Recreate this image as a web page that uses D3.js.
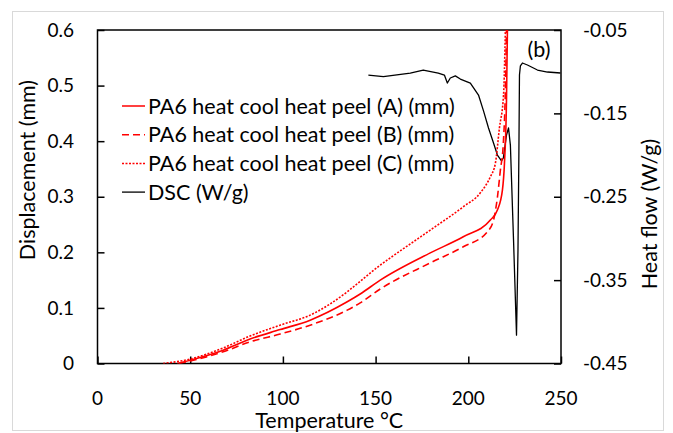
<!DOCTYPE html>
<html>
<head>
<meta charset="utf-8">
<script src="https://cdn.jsdelivr.net/npm/d3@7/dist/d3.min.js"></script>
<style>
  html, body { margin: 0; padding: 0; background: #fff; }
  svg { display: block; }
  text { font-family: Lato, "Open Sans", sans-serif; fill: #000; }
</style>
</head>
<body>
<svg id="chart" width="673" height="433"></svg>
<script>
// Peel displacement (mm) vs temperature (°C) for three PA6 specimens
const tempA = [43, 50, 67.8, 82.3, 98.5, 114.7, 134.7, 141.7, 152.5, 179.5, 197.3, 211.9, 215.7, 218.4, 219.5, 220.6, 221.1];
const dispA = [0, 0.006, 0.024, 0.044, 0.061, 0.078, 0.111, 0.125, 0.150, 0.199, 0.228, 0.258, 0.276, 0.312, 0.360, 0.474, 0.600];

const tempB = [44, 50, 67.8, 82.3, 98.5, 114.7, 134.7, 141.7, 152.5, 179.5, 197.3, 210.3, 213.6, 215.7, 217.3, 218.9, 220.0, 220.6];
const dispB = [0, 0.0045, 0.021, 0.039, 0.053, 0.069, 0.096, 0.109, 0.134, 0.181, 0.210, 0.237, 0.258, 0.299, 0.348, 0.397, 0.492, 0.600];

const tempC = [35.4, 50, 67.8, 82.3, 98.5, 114.7, 134.7, 141.7, 152.5, 157.9, 179.5, 197.3, 206.5, 211.9, 214.6, 216.8, 219.0, 220.0];
const dispC = [0, 0.008, 0.028, 0.0495, 0.069, 0.087, 0.129, 0.148, 0.177, 0.190, 0.240, 0.282, 0.307, 0.336, 0.360, 0.424, 0.483, 0.600];

// DSC heat flow (W/g) vs temperature (°C)
const tempDSC = [146.1, 154.2, 168.7, 175.7, 183.8, 187.1, 188.7, 190.3, 193.0, 195.7, 201.1, 205.5, 208.2, 210.9, 213.6, 215.7, 217.9, 218.9, 220.6, 221.7, 222.7, 224.4, 226.0, 226.8, 227.3, 227.6, 228.1, 229.2, 231.9, 237.3, 242.7, 249.7];
const heatDSC = [-0.104, -0.106, -0.1016, -0.098, -0.1016, -0.104, -0.1136, -0.1076, -0.105, -0.1088, -0.1136, -0.128, -0.147, -0.1675, -0.1855, -0.200, -0.207, -0.2035, -0.176, -0.1675, -0.188, -0.302, -0.416, -0.314, -0.194, -0.104, -0.093, -0.0896, -0.092, -0.098, -0.1004, -0.1016];

const xTicks = [0, 50, 100, 150, 200, 250];
const yTicks = [0, 0.1, 0.2, 0.3, 0.4, 0.5, 0.6];
const y2Ticks = [-0.05, -0.15, -0.25, -0.35, -0.45];

const seriesNames = [
  "PA6 heat cool heat peel (A) (mm)",
  "PA6 heat cool heat peel (B) (mm)",
  "PA6 heat cool heat peel (C) (mm)",
  "DSC (W/g)"
];

const svg = d3.select("#chart");
const plotLeft = 97.5, plotRight = 561, plotTop = 30, plotBottom = 363.5;

const x = d3.scaleLinear().domain([0, 250]).range([plotLeft, plotRight]);
const y = d3.scaleLinear().domain([0, 0.6]).range([plotBottom, plotTop]);
const y2 = d3.scaleLinear().domain([-0.45, -0.05]).range([plotBottom, plotTop]);

// outer frame
svg.append("rect")
  .attr("x", 12.5).attr("y", 11.5)
  .attr("width", 651).attr("height", 419)
  .attr("fill", "none").attr("stroke", "#d9d9d9").attr("stroke-width", 1);

svg.append("defs").append("clipPath").attr("id", "plotClip")
  .append("rect").attr("x", plotLeft).attr("y", plotTop - 1)
  .attr("width", plotRight - plotLeft).attr("height", plotBottom - plotTop + 1);

const tickFont = 19;
const textFont = 21.5;

// axes, ticks pointing inward
const xAxis = d3.axisTop(x).tickValues(xTicks).tickSize(7).tickFormat("");
const yAxis = d3.axisRight(y).tickValues(yTicks).tickSize(7).tickFormat("");
const y2Axis = d3.axisLeft(y2).tickValues(y2Ticks).tickSize(7).tickFormat("");

function styleAxis(g) {
  g.selectAll(".domain").remove();
  g.selectAll(".tick line").attr("stroke", "#000").attr("stroke-width", 1.5);
}
svg.append("g").attr("transform", `translate(0,${plotBottom})`).call(xAxis).call(styleAxis);
svg.append("g").attr("transform", `translate(${plotLeft},0)`).call(yAxis).call(styleAxis);
svg.append("g").attr("transform", `translate(${plotRight},0)`).call(y2Axis).call(styleAxis);

// plot box
svg.append("rect")
  .attr("x", plotLeft).attr("y", plotTop)
  .attr("width", plotRight - plotLeft).attr("height", plotBottom - plotTop)
  .attr("fill", "none").attr("stroke", "#000").attr("stroke-width", 1.5);

// tick labels
svg.append("g").selectAll("text").data(xTicks).join("text")
  .attr("x", d => x(d)).attr("y", 405)
  .attr("text-anchor", "middle").attr("font-size", tickFont)
  .text(d => d3.format("d")(d));

svg.append("g").selectAll("text").data(yTicks).join("text")
  .attr("x", 74).attr("y", d => y(d)).attr("dy", "0.35em")
  .attr("text-anchor", "end").attr("font-size", tickFont)
  .text(d => d === 0 ? "0" : d3.format(".1f")(d));

svg.append("g").selectAll("text").data(y2Ticks).join("text")
  .attr("x", 583).attr("y", d => y2(d)).attr("dy", "0.35em")
  .attr("text-anchor", "start").attr("font-size", tickFont)
  .text(d => d.toFixed(2));

// axis titles
svg.append("text")
  .attr("x", x(125)).attr("y", 428)
  .attr("text-anchor", "middle").attr("font-size", textFont)
  .text("Temperature °C");

svg.append("text")
  .attr("transform", `translate(35,170) rotate(-90)`)
  .attr("text-anchor", "middle").attr("font-size", textFont)
  .text("Displacement (mm)");

svg.append("text")
  .attr("transform", `translate(657,214) rotate(-90)`)
  .attr("text-anchor", "middle").attr("font-size", textFont)
  .text("Heat flow (W/g)");

svg.append("text")
  .attr("x", 539).attr("y", 49).attr("dy", "0.35em")
  .attr("text-anchor", "middle").attr("font-size", textFont)
  .text("(b)");

// series
const plot = svg.append("g").attr("clip-path", "url(#plotClip)");
const dispLine = d3.line().x(d => x(d[0])).y(d => y(d[1])).curve(d3.curveMonotoneX);
const dscLine = d3.line().x(d => x(d[0])).y(d => y2(d[1])).curve(d3.curveLinear);

const series = [
  { t: tempA, v: dispA, dash: null },
  { t: tempB, v: dispB, dash: "7,4" },
  { t: tempC, v: dispC, dash: "2,1.5" }
];

plot.append("path")
  .datum(d3.zip(tempDSC, heatDSC))
  .attr("fill", "none").attr("stroke", "#000").attr("stroke-width", 1.3)
  .attr("stroke-linejoin", "round")
  .attr("d", dscLine);

series.forEach(s => {
  plot.append("path")
    .datum(d3.zip(s.t, s.v))
    .attr("fill", "none").attr("stroke", "#ff0000").attr("stroke-width", 1.6)
    .attr("stroke-dasharray", s.dash)
    .attr("d", dispLine);
});

// legend
const legendStyles = [
  { color: "#ff0000", dash: null },
  { color: "#ff0000", dash: "7,4" },
  { color: "#ff0000", dash: "2,1.5" },
  { color: "#000", dash: null }
];
const legend = svg.append("g");
seriesNames.forEach((name, i) => {
  const ly = 106 + i * 28.7;
  legend.append("line")
    .attr("x1", 122).attr("x2", 145).attr("y1", ly).attr("y2", ly)
    .attr("stroke", legendStyles[i].color)
    .attr("stroke-width", i === 3 ? 1.3 : 1.5)
    .attr("stroke-dasharray", legendStyles[i].dash);
  legend.append("text")
    .attr("x", 148).attr("y", ly).attr("dy", "0.35em")
    .attr("font-size", textFont)
    .text(name);
});
</script>
</body>
</html>
